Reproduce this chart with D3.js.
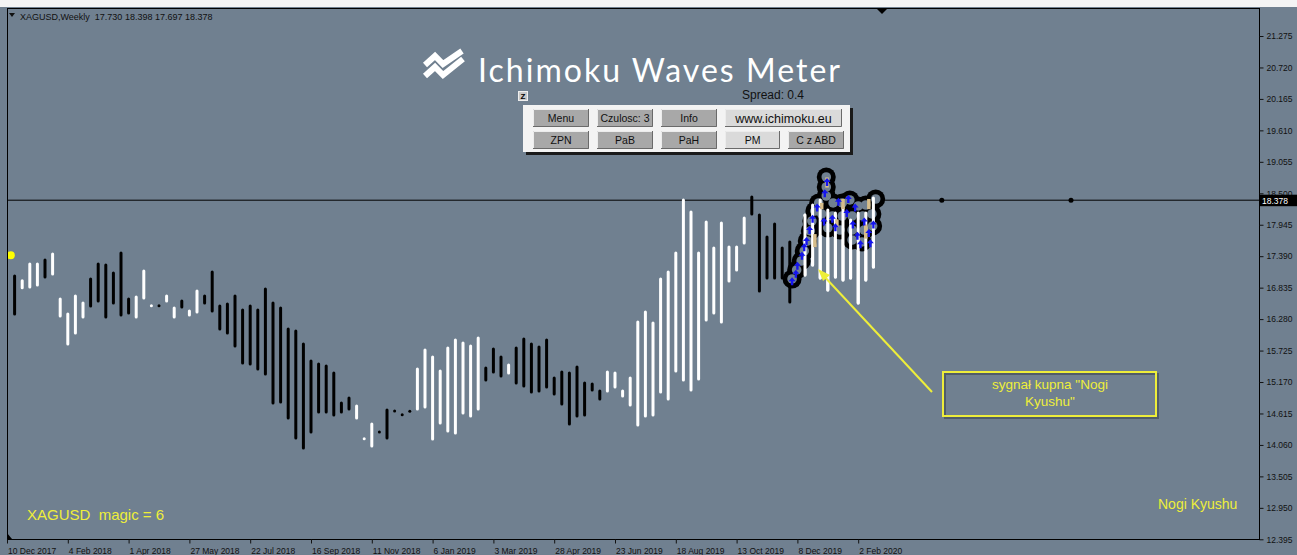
<!DOCTYPE html>
<html><head><meta charset="utf-8">
<script src="https://cdn.jsdelivr.net/npm/d3@7/dist/d3.min.js"></script>
<style>html,body{margin:0;padding:0;background:#708090;overflow:hidden}</style>
</head><body><svg id="c" width="1297" height="555"></svg>
<script>
// ---------------- DATA ----------------
const symbolTitle = "XAGUSD,Weekly";
const headerOHLC = ["17.730", "18.398", "17.697", "18.378"];
const lastPrice = 18.378;
const firstBarWeek = "17 Dec 2017";           // week of first visible bar
const xTickLabels = ["10 Dec 2017","4 Feb 2018","1 Apr 2018","27 May 2018","22 Jul 2018","16 Sep 2018","11 Nov 2018","6 Jan 2019","3 Mar 2019","28 Apr 2019","23 Jun 2019","18 Aug 2019","13 Oct 2019","8 Dec 2019","2 Feb 2020"];
const yTickValues = [12.395,12.950,13.505,14.060,14.615,15.170,15.725,16.280,16.835,17.390,17.945,18.500,19.055,19.610,20.165,20.720,21.275];
const barHigh = [17.041,16.958,17.252,17.252,17.323,17.429,16.635,16.370,16.688,16.564,
  16.988,17.252,17.235,17.094,17.446,16.635,16.670,17.129,16.517,16.517,
  16.688,16.476,16.600,16.423,16.776,16.688,17.111,16.511,16.547,16.688,
  16.441,16.511,16.441,16.811,16.564,16.476,16.106,16.070,15.841,15.541,
  15.488,15.453,15.329,14.800,14.888,14.747,14.170,14.430,14.288,14.677,
  14.659,14.594,14.654,15.400,15.735,15.612,15.365,15.770,15.912,15.859,
  15.806,15.947,15.418,15.753,15.612,15.470,15.770,15.929,15.841,15.788,
  15.912,15.241,15.347,15.329,15.435,15.153,15.135,15.012,15.347,15.329,
  15.012,15.241,16.229,16.406,16.211,16.988,17.111,17.446,18.382,18.170,
  17.446,17.993,17.535,17.976,17.552,17.552,18.064,18.434,18.117,17.729,
  17.958,17.535,17.641,17.499,18.117,18.293,18.382,18.205,18.152,18.258,
  18.029,18.152,18.152,18.417];
const barLow = [16.370,16.834,16.847,16.882,17.023,17.076,16.335,15.841,16.035,16.317,
  16.511,16.600,16.317,16.564,16.353,16.388,16.317,16.653,16.517,16.517,
  16.600,16.317,16.494,16.353,16.406,16.564,16.423,16.106,16.035,15.806,
  15.506,15.488,15.400,15.312,14.800,14.818,14.535,14.183,14.006,14.288,
  14.641,14.641,14.588,14.641,14.694,14.535,14.170,14.041,14.288,14.183,
  14.659,14.594,14.654,14.694,14.729,14.165,14.447,14.306,14.271,14.624,
  14.571,14.694,15.206,15.347,15.276,15.329,15.153,15.100,14.994,15.012,
  15.082,14.959,14.782,14.430,14.571,14.588,15.029,14.871,15.012,15.082,
  14.924,14.765,14.412,14.571,14.588,14.994,14.871,15.365,15.206,15.029,
  15.223,16.264,16.388,16.229,16.952,17.147,17.623,18.135,16.776,17.005,
  17.005,17.005,16.582,16.882,17.058,17.235,17.005,16.794,17.023,16.970,
  17.005,16.564,16.970,17.199];
const barColor = ["B","WWW","B","WWWWW","BBBBBB","WWW","B","WW","B","WW",
  "BBBBBBBBBBBBBBBBBBBB","WWW","BBBBB","WWWWWWWWW","BBB","W",
  "BBBBBBBBBBBB","WWWWWWWWWWWWWWWWWWW","BBBBBBB","WWWWWWWWWW"].join("").split("");
// signal marker cluster: [weeks after first bar week, price]
const signalMarkers = [[102.3,16.988],[102.9,17.147],[103.5,17.305],[103.9,17.482],[104.3,17.658],[104.7,17.835],[104.9,18.011],[105.3,18.187],[105.8,18.329],
  [106.8,18.787],[106.8,18.611],[106.8,18.452],
  [107.7,18.329],[108.9,18.329],[109.9,18.382],[111.0,18.276],[112.0,18.293],[113.3,18.399],
  [106.2,18.135],[107.6,18.099],[108.9,18.099],[110.2,18.099],[111.6,18.099],[112.8,18.135],
  [107.0,17.888],[108.6,17.852],[110.2,17.852],[111.8,17.852],[112.9,17.923],
  [110.2,17.676],[111.5,17.641]];
const blueArrows = [[102.3,16.95],[102.8,17.08],[103.0,17.22],[103.6,17.40],[103.9,17.55],[104.2,17.66],[104.6,17.85],[105.0,18.05],[105.6,18.25],
  [106.9,18.70],[106.6,18.50],[107.6,18.05],[108.4,18.35],[109.5,18.15],[110.3,17.95],[110.9,17.75],[111.8,18.00],[112.4,17.80],[113.0,17.95],[109.7,18.40],
  [108.0,17.90],[110.6,18.25],[111.3,17.60],[112.6,17.62],[106.5,18.00]];
const tanMarks = [[106.9,18.78,18.60],[106.2,18.33,18.22],[109.0,18.40,18.22],[112.4,18.40,18.22],[105.3,17.78,17.55],[112.0,17.95,17.70],[108.2,18.04,17.90]];
const projectionWeeks = [122, 139];
const startDot = [-0.5, 17.406];
const buttonsRow1 = ["Menu","Czulosc: 3","Info","www.ichimoku.eu"];
const buttonsRow2 = ["ZPN","PaB","PaH","PM","C z ABD"];
const annotationLines = ["sygnał kupna \"Nogi", "Kyushu\""];

// ---------------- CHART ----------------
const W = 1297, H = 555;
const L = 7, T = 8, R = 1259, B = 539;
const BG = "#708090";
const svg = d3.select("#c");
const parse = d3.utcParse("%d %b %Y");
const tickDates = xTickLabels.map(parse);
const firstWeek = parse(firstBarWeek);
const wk = i => d3.utcDay.offset(firstWeek, Math.round(i * 7));
const wkf = i => { const a = wk(Math.floor(i)); return new Date(a.getTime() + (i - Math.floor(i)) * 7 * 864e5); };

const x = d3.scaleUtc().domain([tickDates[0], tickDates[tickDates.length - 1]]).range([L, 858.2]);
const y = d3.scaleLinear().domain([21.275, 12.395]).range([36, 539.3]);

svg.append("rect").attr("width", W).attr("height", H).attr("fill", BG);
svg.append("rect").attr("width", W).attr("height", T - 1).attr("fill", "#f4f4f4");

const clip = svg.append("defs").append("clipPath").attr("id", "pc");
clip.append("rect").attr("x", L).attr("y", T).attr("width", R - L).attr("height", B - T);
const plot = svg.append("g").attr("clip-path", "url(#pc)");

// header
svg.append("path").attr("d", "M9,13 L15,13 L12,17 Z").attr("fill", "#111");
svg.append("text").attr("x", 20).attr("y", 19.5).attr("font-family", "Liberation Sans, Arial, sans-serif")
  .attr("font-size", 9).attr("fill", "#111").attr("xml:space", "preserve")
  .text(symbolTitle + "  " + headerOHLC.join(" "));

// price line
plot.append("line").attr("x1", L).attr("x2", R).attr("y1", y(lastPrice)).attr("y2", y(lastPrice)).attr("stroke", "#000").attr("stroke-width", 1);
plot.selectAll("circle.proj").data(projectionWeeks).join("circle").attr("class", "proj")
  .attr("cx", d => x(wk(d))).attr("cy", y(lastPrice)).attr("r", 2.5).attr("fill", "#000");

// bars
const bars = barHigh.map((h, i) => ({ i, h, l: barLow[i], c: barColor[i] }));
function drawBars(g, data) {
  g.selectAll(null).data(data).join("line")
    .attr("x1", d => x(wk(d.i))).attr("x2", d => x(wk(d.i)))
    .attr("y1", d => y(d.h)).attr("y2", d => y(d.l))
    .attr("stroke", d => d.c === "W" ? "#ffffff" : "#000000")
    .attr("stroke-width", 3).attr("stroke-linecap", "round");
}
drawBars(plot.append("g"), bars);

// signal cluster
const sg = plot.append("g");
sg.selectAll(null).data(signalMarkers).join("circle")
  .attr("cx", d => x(wkf(d[0]))).attr("cy", d => y(d[1])).attr("r", 9.5).attr("fill", "#000");
sg.selectAll(null).data(signalMarkers).join("circle")
  .attr("cx", d => x(wkf(d[0]))).attr("cy", d => y(d[1])).attr("r", 4.8).attr("fill", BG);
drawBars(sg.append("g"), bars.filter(d => d.i >= 104 && d.c === "W"));
sg.selectAll(null).data(tanMarks).join("line")
  .attr("x1", d => x(wkf(d[0]))).attr("x2", d => x(wkf(d[0])))
  .attr("y1", d => y(d[1])).attr("y2", d => y(d[2])).attr("stroke", "#d6bd8a").attr("stroke-width", 3.5);
sg.selectAll(null).data(blueArrows).join("path")
  .attr("transform", d => `translate(${x(wkf(d[0]))},${y(d[1])})`)
  .attr("d", "M0,-4 L3.5,0 L1.2,0 L1.2,4 L-1.2,4 L-1.2,0 L-3.5,0 Z").attr("fill", "#1515ee");

// start dot
plot.append("circle").attr("cx", x(wkf(startDot[0]))).attr("cy", y(startDot[1])).attr("r", 4).attr("fill", "#ffff00");

// frame
svg.append("rect").attr("x", L + 0.5).attr("y", T + 0.5).attr("width", R - L).attr("height", B - T)
  .attr("fill", "none").attr("stroke", "#000").attr("stroke-width", 1);
svg.append("path").attr("d", `M${876},${T} L${888},${T} L${882},${T + 6} Z`).attr("fill", "#000");
svg.append("path").attr("d", `M${L},${B - 6} L${L + 5},${B} L${L},${B} Z`).attr("fill", "#000");

// axes
const fnt = "Liberation Sans, Arial, sans-serif";
const ya = svg.append("g").attr("transform", `translate(${R + 0.5},0)`)
  .call(d3.axisRight(y).tickValues(yTickValues).tickFormat(d3.format(".3f")).tickSize(4).tickPadding(3));
ya.select(".domain").remove();
ya.selectAll("line").attr("stroke", "#111");
ya.selectAll("text").attr("font-family", fnt).attr("font-size", 8.5).attr("fill", "#111");

const xa = svg.append("g").attr("transform", `translate(0,${B + 0.5})`)
  .call(d3.axisBottom(x).tickValues(tickDates).tickFormat((d, i) => xTickLabels[i]).tickSize(4).tickPadding(4));
xa.select(".domain").remove();
xa.selectAll("line").attr("stroke", "#111");
xa.selectAll("text").attr("font-family", fnt).attr("font-size", 8.5).attr("fill", "#111")
  .attr("text-anchor", "start").attr("dx", 0.5);

// price label
svg.append("rect").attr("x", R + 1).attr("y", y(lastPrice) - 5.5).attr("width", W - R).attr("height", 11.5).attr("fill", "#000");
svg.append("text").attr("x", R + 3).attr("y", y(lastPrice) + 3.4).attr("font-family", fnt).attr("font-size", 8.5)
  .attr("fill", "#fff").text(d3.format(".3f")(lastPrice));

// logo
const logo = svg.append("g");
logo.append("path").attr("d", "M425,65 L435,56 L443,64 L462,51").attr("fill", "none").attr("stroke", "#fff").attr("stroke-width", 6).attr("stroke-linejoin", "miter");
logo.append("path").attr("d", "M425,76 L435,67 L443,75 L463,59").attr("fill", "none").attr("stroke", "#fff").attr("stroke-width", 6).attr("stroke-linejoin", "miter");
logo.append("text").attr("x", 478).attr("y", 82).attr("font-family", "Lato, 'Open Sans', sans-serif").attr("font-size", 32)
  .attr("fill", "#fff").attr("textLength", 362).attr("lengthAdjust", "spacing").text("Ichimoku Waves Meter");

// Z box + spread
svg.append("rect").attr("x", 518.5).attr("y", 91.5).attr("width", 9).attr("height", 9).attr("fill", "#c8c8c8").attr("stroke", "#eee");
svg.append("text").attr("x", 523).attr("y", 99).attr("text-anchor", "middle").attr("font-family", fnt).attr("font-size", 8).attr("font-weight", "bold").attr("fill", "#000").text("Z");
svg.append("text").attr("x", 742).attr("y", 99).attr("font-family", fnt).attr("font-size", 12).attr("fill", "#111").text("Spread: 0.4");

// panel
svg.append("rect").attr("x", 526).attr("y", 108).attr("width", 327).attr("height", 47).attr("fill", "#1a1a1a");
svg.append("rect").attr("x", 523).attr("y", 105).attr("width", 327).attr("height", 47).attr("fill", "#f3f3f3");
function button(bx, by, bw, bh, label, face, fs) {
  const g = svg.append("g");
  g.append("rect").attr("x", bx).attr("y", by).attr("width", bw).attr("height", bh).attr("fill", face);
  g.append("path").attr("d", `M${bx + 0.5},${by + bh} V${by + 0.5} H${bx + bw}`).attr("stroke", "#ececec").attr("fill", "none");
  g.append("path").attr("d", `M${bx},${by + bh - 0.5} H${bx + bw - 0.5} V${by}`).attr("stroke", "#6a6a6a").attr("fill", "none");
  g.append("text").attr("x", bx + bw / 2).attr("y", by + bh / 2 + fs * 0.36).attr("text-anchor", "middle")
    .attr("font-family", fnt).attr("font-size", fs).attr("fill", "#111").text(label);
}
const r1 = [[533, 56, "#a8a8a8"], [597, 56, "#a8a8a8"], [661, 56, "#a8a8a8"], [725, 117, "#dadada"]];
buttonsRow1.forEach((t, i) => button(r1[i][0], 109, r1[i][1], 18, t, r1[i][2], i === 3 ? 12.5 : 10.5));
const r2 = [[533, 56, "#a8a8a8"], [597, 56, "#a8a8a8"], [661, 56, "#a8a8a8"], [725, 55, "#dadada"], [788, 56, "#a8a8a8"]];
buttonsRow2.forEach((t, i) => button(r2[i][0], 131, r2[i][1], 18, t, r2[i][2], 10.5));

// annotation
const YEL = "#eeee3a";
const ann = svg.append("g");
ann.append("line").attr("x1", 932).attr("y1", 392).attr("x2", 822).attr("y2", 274).attr("stroke", YEL).attr("stroke-width", 2);
ann.append("path").attr("d", "M818,269 L830,275 L823,281 Z").attr("fill", YEL);
ann.append("rect").attr("x", 945).attr("y", 374).attr("width", 213).attr("height", 44).attr("fill", "none").attr("stroke", "#3a4450").attr("stroke-width", 2).attr("opacity", 0.6);
ann.append("rect").attr("x", 943).attr("y", 372).attr("width", 213).attr("height", 44).attr("fill", "none").attr("stroke", YEL).attr("stroke-width", 2);
annotationLines.forEach((t, i) => ann.append("text").attr("x", 1050).attr("y", 389 + i * 17).attr("text-anchor", "middle")
  .attr("font-family", fnt).attr("font-size", 13.5).attr("fill", YEL).text(t));

svg.append("text").attr("x", 27).attr("y", 520).attr("font-family", fnt).attr("font-size", 15).attr("fill", YEL)
  .attr("xml:space", "preserve").text("XAGUSD  magic = 6");
svg.append("text").attr("x", 1158).attr("y", 509).attr("font-family", fnt).attr("font-size", 14).attr("fill", YEL).text("Nogi Kyushu");
</script></body></html>
